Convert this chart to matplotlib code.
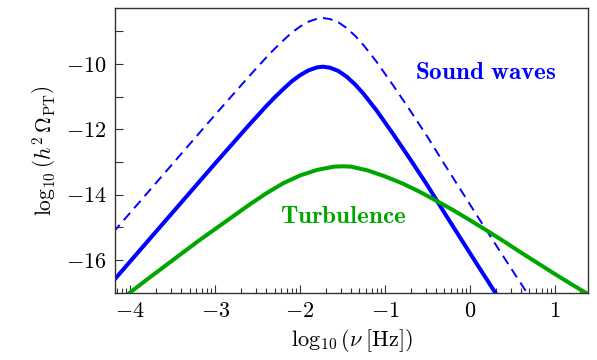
import numpy as np
import matplotlib
matplotlib.use("Agg")
import matplotlib.pyplot as plt
from matplotlib.ticker import FixedLocator, FuncFormatter

plt.rcParams['mathtext.fontset'] = 'cm'
plt.rcParams['font.family'] = ['cmr10', 'DejaVu Serif']
plt.rcParams['axes.unicode_minus'] = False

# sound waves (solid)
sw_x = [-4.20, -4.00, -3.80, -3.60, -3.40, -3.20, -3.00, -2.80, -2.60, -2.40,
        -2.30, -2.20, -2.10, -2.00, -1.90, -1.80, -1.73, -1.65, -1.55, -1.45,
        -1.35, -1.25, -1.10, -0.90, -0.70, -0.50, -0.30, -0.10, 0.10, 0.35]
sw_y = [-16.64, -16.04, -15.44, -14.84, -14.24, -13.64, -13.04, -12.45, -11.86, -11.29,
        -11.02, -10.77, -10.53, -10.34, -10.19, -10.10, -10.08, -10.11, -10.21, -10.39,
        -10.63, -10.92, -11.42, -12.16, -12.93, -13.72, -14.56, -15.38, -16.20, -17.21]

# sound waves, upper estimate (dashed)
swd_x = [-4.20, -4.00, -3.80, -3.60, -3.40, -3.20, -3.00, -2.80, -2.60, -2.40,
         -2.30, -2.20, -2.10, -2.00, -1.90, -1.80, -1.73, -1.65, -1.55, -1.45,
         -1.35, -1.25, -1.10, -0.90, -0.70, -0.50, -0.30, -0.10, 0.10, 0.35,
         0.55, 0.75]
swd_y = [-15.15, -14.55, -13.95, -13.35, -12.75, -12.15, -11.55, -10.96, -10.37, -9.80,
         -9.53, -9.28, -9.04, -8.85, -8.70, -8.61, -8.59, -8.62, -8.72, -8.90,
         -9.14, -9.43, -9.93, -10.67, -11.44, -12.23, -13.07, -13.89, -14.71, -15.72,
         -16.52, -17.32]

# turbulence
tb_x = [-4.20, -4.00, -3.80, -3.60, -3.40, -3.20, -3.00, -2.80, -2.60, -2.40,
        -2.20, -2.00, -1.80, -1.60, -1.50, -1.40, -1.20, -1.00, -0.80, -0.60,
        -0.40, -0.20, 0.00, 0.20, 0.40, 0.60, 0.80, 1.00, 1.20, 1.45]
tb_y = [-17.39, -16.99, -16.59, -16.20, -15.81, -15.42, -15.05, -14.68, -14.31, -13.96,
        -13.65, -13.41, -13.24, -13.14, -13.13, -13.14, -13.26, -13.44, -13.65, -13.90,
        -14.18, -14.47, -14.78, -15.10, -15.43, -15.77, -16.10, -16.43, -16.75, -17.14]

blue = '#0000ff'
green = '#00a600'

fig = plt.figure(figsize=(5.97, 3.6), dpi=100)
ax = fig.add_axes([0.1926, 0.187, 0.7924, 0.791])

ax.plot(swd_x, swd_y, color=blue, lw=1.4, dashes=(5, 3.2))
ax.plot(sw_x, sw_y, color=blue, lw=2.9, solid_capstyle='butt')
ax.plot(tb_x, tb_y, color=green, lw=2.9, solid_capstyle='butt')

ax.text(0.19, -10.27, r'$\mathbf{Sound\ waves}$', color=blue, fontsize=18,
        ha='center', va='center')
ax.text(-1.49, -14.67, r'$\mathbf{Turbulence}$', color=green, fontsize=18,
        ha='center', va='center')

ax.set_xlim(-4.18, 1.39)
ax.set_ylim(-17.0, -8.28)

ax.set_xticks([-4, -3, -2, -1, 0, 1])
minor_x = [d + np.log10(k) for d in range(-5, 2) for k in range(2, 10)]
ax.xaxis.set_minor_locator(FixedLocator(minor_x))
ax.set_yticks([-16, -14, -12, -10])
ax.yaxis.set_minor_locator(FixedLocator([-17, -15, -13, -11, -9]))

fmt = FuncFormatter(lambda v, p: r'$%d$' % round(v))
ax.xaxis.set_major_formatter(fmt)
ax.yaxis.set_major_formatter(fmt)

ax.tick_params(which='both', direction='in', top=False, right=False,
               labelsize=16, width=0.8, color='#333333')
ax.tick_params(which='major', length=6, pad=6)
ax.tick_params(axis='x', which='minor', length=3.5)
ax.tick_params(axis='y', which='minor', length=6)

for s in ax.spines.values():
    s.set_linewidth(1.0)
    s.set_color('#333333')

ax.set_xlabel(r'$\log_{10}(\nu\;[\mathrm{Hz}])$', fontsize=16, labelpad=5)
ax.set_ylabel(r'$\log_{10}\left(h^2\,\mathit{\Omega}_{\mathrm{PT}}\right)$', fontsize=15.5, labelpad=6)

fig.savefig('out.png', dpi=100)
